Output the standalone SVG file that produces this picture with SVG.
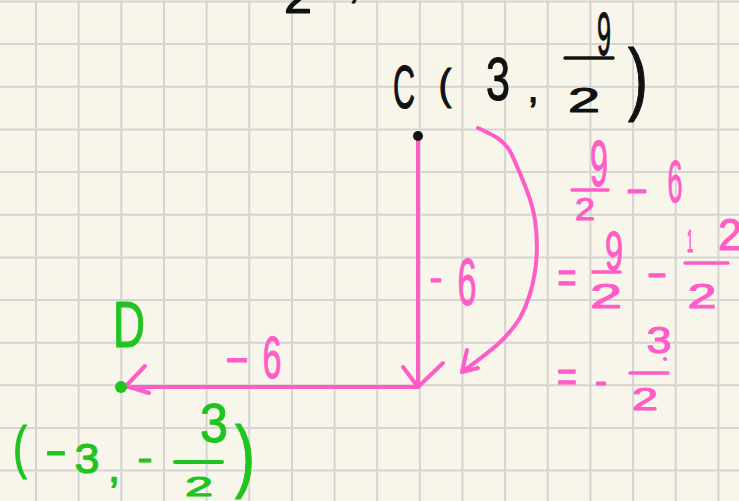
<svg xmlns="http://www.w3.org/2000/svg" width="739" height="501" viewBox="0 0 739 501">
<style>
text{font-family:"Liberation Sans",Arial,sans-serif;text-anchor:middle;stroke-width:1.1;stroke-linejoin:round}
.k{fill:#111111;stroke:#111111}
.p{fill:#ff5cc8;stroke:#ff5cc8}
.g{fill:#20c420;stroke:#20c420}
.grid{stroke:#d4d4d4;stroke-width:2;fill:none}
.pk{stroke:#ff5cc8;stroke-width:4;fill:none;stroke-linecap:round;stroke-linejoin:round}
.bk{stroke:#111111;stroke-width:3.5;stroke-linecap:round}
.bp{stroke:#ff5cc8;stroke-width:3.5;stroke-linecap:round}
.bg{stroke:#20c420;stroke-width:4;stroke-linecap:round}
</style>
<rect x="0" y="0" width="739" height="501" fill="#f8f6eb"/>
<g id="grid">
<path class="grid" d="M36,0V501M78.65,0V501M121.3,0V501M163.95,0V501M206.6,0V501M249.25,0V501M291.9,0V501M334.55,0V501M377.2,0V501M419.85,0V501M462.5,0V501M505.15,0V501M547.8,0V501M590.45,0V501M633.1,0V501M675.75,0V501M718.4,0V501"/>
<path class="grid" d="M0,1.5H739M0,44.1H739M0,86.8H739M0,129.4H739M0,172.1H739M0,214.7H739M0,257.4H739M0,300H739M0,342.7H739M0,385.3H739M0,428H739M0,470.6H739"/>
</g>
<g id="top-cut">
<text class="k" x="298" y="13" font-size="48" textLength="28" lengthAdjust="spacingAndGlyphs">2</text>
<text class="k" x="354" y="-2" font-size="40">,</text>
</g>
<g id="connectors">
<path class="pk" d="M418,137V387"/>
<path class="pk" d="M403,367L418,387L443,363"/>
<path class="pk" d="M418,387H125"/>
<path class="pk" d="M145,366L126,386L149,393"/>
<path class="pk" d="M478,128C495,136 505,140 512,155C522,178 532,200 535,220C540,255 535,290 520,318C505,342 485,355 462,372"/>
<path class="pk" d="M467,350L462,372L478,368"/>
<g id="label-vertical">
<text class="p" x="436" y="291" font-size="40" textLength="13" lengthAdjust="spacingAndGlyphs">-</text>
<text class="p" x="467" y="305" font-size="66" textLength="19" lengthAdjust="spacingAndGlyphs">6</text>
</g>
<g id="label-horizontal">
<text class="p" x="237" y="372" font-size="44" textLength="25" lengthAdjust="spacingAndGlyphs">-</text>
<text class="p" x="272" y="378" font-size="60" textLength="19" lengthAdjust="spacingAndGlyphs">6</text>
</g>
</g>
<g id="node-C">
<circle cx="418" cy="136" r="5" fill="#111111"/>
<text class="k" x="404" y="108" font-size="62" textLength="22" lengthAdjust="spacingAndGlyphs">C</text>
<text class="k" x="445" y="99" font-size="43" textLength="13" lengthAdjust="spacingAndGlyphs">(</text>
<text class="k" x="498" y="100" font-size="62" textLength="24" lengthAdjust="spacingAndGlyphs">3</text>
<text class="k" x="533" y="102" font-size="40">,</text>
<text class="k" x="604" y="55" font-size="62" textLength="14" lengthAdjust="spacingAndGlyphs">9</text>
<line class="bk" x1="565" y1="58" x2="613" y2="58"/>
<text class="k" x="584" y="112" font-size="35" textLength="32" lengthAdjust="spacingAndGlyphs">2</text>
<text class="k" x="638" y="105" font-size="80" textLength="20" lengthAdjust="spacingAndGlyphs">)</text>
</g>
<g id="node-D">
<circle cx="121" cy="387" r="6" fill="#20c420"/>
<text class="g" x="129" y="347" font-size="65" textLength="32" lengthAdjust="spacingAndGlyphs">D</text>
<text class="g" x="20" y="467" font-size="58" textLength="14" lengthAdjust="spacingAndGlyphs">(</text>
<text class="g" x="56" y="465" font-size="45" textLength="22" lengthAdjust="spacingAndGlyphs">-</text>
<text class="g" x="87" y="473" font-size="42" textLength="25" lengthAdjust="spacingAndGlyphs">3</text>
<text class="g" x="114" y="482" font-size="45">,</text>
<text class="g" x="145" y="470" font-size="36" textLength="15" lengthAdjust="spacingAndGlyphs">-</text>
<text class="g" x="214" y="442" font-size="56" textLength="28" lengthAdjust="spacingAndGlyphs">3</text>
<line class="bg" x1="175" y1="462" x2="222" y2="462"/>
<text class="g" x="199" y="496" font-size="27" textLength="28" lengthAdjust="spacingAndGlyphs">2</text>
<text class="g" x="245" y="482" font-size="80" textLength="20" lengthAdjust="spacingAndGlyphs">)</text>
</g>
<g id="working">
<text class="p" x="599" y="186" font-size="64" textLength="18" lengthAdjust="spacingAndGlyphs">9</text>
<line class="bp" x1="572" y1="190" x2="608" y2="190"/>
<text class="p" x="585" y="220" font-size="31" textLength="20" lengthAdjust="spacingAndGlyphs">2</text>
<text class="p" x="637" y="202" font-size="40" textLength="23" lengthAdjust="spacingAndGlyphs">-</text>
<text class="p" x="675" y="202" font-size="59" textLength="15" lengthAdjust="spacingAndGlyphs">6</text>

<text class="p" x="567" y="292" font-size="45" textLength="19" lengthAdjust="spacingAndGlyphs">=</text>
<text class="p" x="614" y="270" font-size="56" textLength="18" lengthAdjust="spacingAndGlyphs">9</text>
<line class="bp" x1="593" y1="272" x2="620" y2="272"/>
<text class="p" x="606" y="308" font-size="35" textLength="32" lengthAdjust="spacingAndGlyphs">2</text>
<text class="p" x="657" y="286" font-size="40" textLength="21" lengthAdjust="spacingAndGlyphs">-</text>
<text class="p" x="690" y="252" font-size="31" textLength="6" lengthAdjust="spacingAndGlyphs">1</text>
<text class="p" x="730" y="250" font-size="45" textLength="24" lengthAdjust="spacingAndGlyphs">2</text>
<line class="bp" x1="685" y1="263" x2="728" y2="263"/>
<text class="p" x="702" y="308" font-size="35" textLength="29" lengthAdjust="spacingAndGlyphs">2</text>

<text class="p" x="567" y="391" font-size="43" textLength="20" lengthAdjust="spacingAndGlyphs">=</text>
<text class="p" x="601" y="393" font-size="36" textLength="12" lengthAdjust="spacingAndGlyphs">-</text>
<text class="p" x="659" y="353" font-size="36" textLength="25" lengthAdjust="spacingAndGlyphs">3</text>
<circle cx="665" cy="359" r="2" fill="#ff5cc8"/>
<line class="bp" x1="630" y1="373" x2="668" y2="373"/>
<text class="p" x="645" y="410" font-size="32" textLength="26" lengthAdjust="spacingAndGlyphs">2</text>
</g>
</svg>
